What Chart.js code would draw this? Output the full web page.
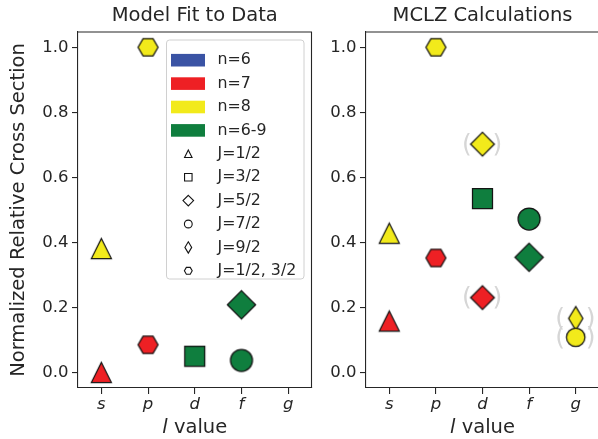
<!DOCTYPE html>
<html>
<head>
<meta charset="utf-8">
<script src="https://cdn.jsdelivr.net/npm/chart.js@4.4.0/dist/chart.umd.min.js"></script>
<style>
  html, body { margin: 0; padding: 0; background: #fff; overflow: hidden; width: 598px; height: 439px; }
  #leftWrap  { position: absolute; left: 0;     top: 0; width: 330px; height: 439px; }
  #rightWrap { position: absolute; left: 320px; top: 0; width: 290px; height: 439px; }
</style>
</head>
<body>
<div id="leftWrap"><canvas id="fitChart"></canvas></div>
<div id="rightWrap"><canvas id="mclzChart"></canvas></div>
<script>
// ---- data ----
const lValues = ['s', 'p', 'd', 'f', 'g'];
const yTicks = [0.0, 0.2, 0.4, 0.6, 0.8, 1.0];

const nLabels = ['n=6', 'n=7', 'n=8', 'n=6-9'];
const nColors = ['#3a53a4', '#ee2024', '#f2ea1b', '#0f7e3e'];
const jLabels = ['J=1/2', 'J=3/2', 'J=5/2', 'J=7/2', 'J=9/2', 'J=1/2, 3/2'];
const jShapes = ['triangle', 'square', 'diamond', 'circle', 'thinDiamond', 'hexagon'];

// Model fit to data
const fitL   = ['s', 's', 'p', 'p', 'd', 'f', 'f'];
const fitVal = [0.0, 0.381, 0.085, 1.0, 0.050, 0.208, 0.037];
const fitN   = ['n=7', 'n=8', 'n=7', 'n=8', 'n=6-9', 'n=6-9', 'n=6-9'];
const fitJ   = ['J=1/2', 'J=1/2', 'J=1/2, 3/2', 'J=1/2, 3/2', 'J=3/2', 'J=5/2', 'J=7/2'];

// MCLZ calculations (bracketed = shown in parentheses)
const mclzL   = ['s', 's', 'p', 'p', 'd', 'd', 'd', 'f', 'f', 'g', 'g'];
const mclzVal = [0.158, 0.428, 0.352, 1.0, 0.702, 0.535, 0.230, 0.472, 0.354, 0.166, 0.108];
const mclzN   = ['n=7', 'n=8', 'n=7', 'n=8', 'n=8', 'n=6-9', 'n=7', 'n=6-9', 'n=6-9', 'n=8', 'n=8'];
const mclzJ   = ['J=1/2', 'J=1/2', 'J=1/2, 3/2', 'J=1/2, 3/2', 'J=5/2', 'J=3/2', 'J=5/2', 'J=7/2', 'J=5/2', 'J=9/2', 'J=7/2'];
const mclzBracketed = [false, false, false, false, true, false, true, false, false, true, true];

// ---- styling ----
const FONT = 'DejaVu Sans';
const INK = '#262626';
const EDGE = '#141414';
const SHAPE_SIZE = { triangle: 20, square: 20, diamond: 20, circle: 22, thinDiamond: 20, hexagon: 20 };
const BRACKET_SCALE = 0.84;

function shapePath(ctx, shape, s, cx, cy) {
  const h = s / 2;
  ctx.beginPath();
  if (shape === 'triangle') {
    ctx.moveTo(cx, cy - h); ctx.lineTo(cx + h, cy + h); ctx.lineTo(cx - h, cy + h); ctx.closePath();
  } else if (shape === 'square') {
    ctx.rect(cx - h, cy - h, s, s);
  } else if (shape === 'diamond' || shape === 'thinDiamond') {
    const d = s / Math.SQRT2;
    const w = shape === 'thinDiamond' ? d * 0.6 : d;
    ctx.moveTo(cx, cy - d); ctx.lineTo(cx + w, cy); ctx.lineTo(cx, cy + d); ctx.lineTo(cx - w, cy); ctx.closePath();
  } else if (shape === 'circle') {
    ctx.arc(cx, cy, h, 0, Math.PI * 2);
  } else if (shape === 'hexagon') {
    for (let k = 0; k < 6; k++) {
      const a = k * Math.PI / 3;
      const px = cx + h * Math.cos(a), py = cy + h * Math.sin(a);
      k ? ctx.lineTo(px, py) : ctx.moveTo(px, py);
    }
    ctx.closePath();
  }
}

const markerCache = {};
function marker(shape, fill, s, lw) {
  const key = [shape, fill, s, lw].join('|');
  if (markerCache[key]) return markerCache[key];
  const ext = Math.ceil(s * 1.5 + lw * 2 + 2);
  const c = document.createElement('canvas');
  c.width = ext; c.height = ext;
  const ctx = c.getContext('2d');
  shapePath(ctx, shape, s, ext / 2, ext / 2);
  ctx.fillStyle = fill; ctx.fill();
  ctx.lineWidth = lw; ctx.strokeStyle = EDGE; ctx.lineJoin = 'miter'; ctx.stroke();
  markerCache[key] = c;
  return c;
}

function buildDataset(ls, vals, ns, js, bracketed) {
  const styles = ls.map((_, i) => {
    const shape = jShapes[jLabels.indexOf(js[i])];
    const color = nColors[nLabels.indexOf(ns[i])];
    const s = SHAPE_SIZE[shape] * (bracketed && bracketed[i] ? BRACKET_SCALE : 1);
    return marker(shape, color, s, 1.25);
  });
  return {
    data: ls.map((l, i) => ({ x: l, y: vals[i] })),
    pointStyle: styles,
    pointRadius: 10,
    pointHoverRadius: 10,
    showLine: false,
    clip: false,
    bracketed: bracketed || null
  };
}

// grey parentheses around bracketed points
const bracketPlugin = {
  id: 'brackets',
  beforeDatasetsDraw(chart) {
    const ds = chart.data.datasets[0];
    if (!ds.bracketed) return;
    const meta = chart.getDatasetMeta(0);
    const ctx = chart.ctx;
    ctx.save();
    ctx.fillStyle = '#d6d6d6';
    ctx.textAlign = 'center';
    ctx.textBaseline = 'middle';
    meta.data.forEach((pt, i) => {
      if (!ds.bracketed[i]) return;
      const stacked = ds.data.filter((d, k) => ds.bracketed[k] && d.x === ds.data[i].x).length > 1;
      ctx.font = (stacked ? 25 : 29) + 'px "' + FONT + '"';
      ctx.fillText('(', pt.x - 15.5, pt.y + 1);
      ctx.fillText(')', pt.x + 15, pt.y + 1);
    });
    ctx.restore();
  }
};

// top and right spines plus italic x-axis label
const framePlugin = {
  id: 'frame',
  afterDraw(chart) {
    const { ctx, chartArea: a } = chart;
    ctx.save();
    ctx.strokeStyle = INK; ctx.lineWidth = 1.1;
    ctx.beginPath();
    ctx.moveTo(a.left, a.top); ctx.lineTo(a.right, a.top); ctx.lineTo(a.right, a.bottom);
    ctx.stroke();
    // x label: italic "l" followed by " value"
    const f1 = 'italic 19.5px "' + FONT + '"', f2 = '19.5px "' + FONT + '"';
    ctx.font = f1; const w1 = ctx.measureText('l').width;
    ctx.font = f2; const w2 = ctx.measureText(' value').width;
    const x0 = (a.left + a.right) / 2 - (w1 + w2) / 2;
    const y0 = a.bottom + 45;
    ctx.fillStyle = INK; ctx.textBaseline = 'alphabetic'; ctx.textAlign = 'left';
    ctx.font = f1; ctx.fillText('l', x0, y0);
    ctx.font = f2; ctx.fillText(' value', x0 + w1, y0);
    ctx.restore();
  }
};

// legend listing the n colours and J marker shapes
const legendPlugin = {
  id: 'nJLegend',
  afterDraw(chart) {
    if (!chart.options.plugins.nJLegend || !chart.options.plugins.nJLegend.show) return;
    const { ctx, chartArea: a } = chart;
    const left = a.left + 88, top = a.top + 7.5, w = 137.5, h = 239, row0 = 20.7, rowH = 23.4;
    ctx.save();
    ctx.fillStyle = 'rgba(255,255,255,0.8)';
    ctx.strokeStyle = '#d0d0d0'; ctx.lineWidth = 1;
    ctx.beginPath();
    ctx.roundRect(left + 0.5, top + 0.5, w, h, 3);
    ctx.fill(); ctx.stroke();
    ctx.font = '15.8px "' + FONT + '"';
    ctx.textBaseline = 'middle'; ctx.textAlign = 'left';
    let r = 0;
    nLabels.forEach((lab, i) => {
      const y = top + row0 + rowH * r++;
      ctx.fillStyle = nColors[i];
      ctx.fillRect(left + 5, y - 6.3, 34, 12.6);
      ctx.fillStyle = INK;
      ctx.fillText(lab, left + 51.5, y);
    });
    const legendSize = { triangle: 7.5, square: 7.5, diamond: 7.5, circle: 7.8, thinDiamond: 8, hexagon: 7.8 };
    jLabels.forEach((lab, i) => {
      const y = top + row0 + rowH * r++;
      const shape = jShapes[i];
      ctx.save();
      shapePath(ctx, shape, legendSize[shape], left + 22.3, y);
      ctx.fillStyle = '#fff'; ctx.fill();
      ctx.strokeStyle = EDGE; ctx.lineWidth = 1.1; ctx.stroke();
      ctx.restore();
      ctx.fillStyle = INK;
      ctx.fillText(lab, left + 51.5, y);
    });
    ctx.restore();
  }
};

function makeChart(canvasId, dataset, opts) {
  return new Chart(document.getElementById(canvasId), {
    type: 'scatter',
    data: { labels: lValues, datasets: [dataset] },
    plugins: [bracketPlugin, framePlugin, legendPlugin],
    options: {
      responsive: true,
      maintainAspectRatio: false,
      animation: false,
      events: [],
      layout: { padding: { left: 0, right: opts.padRight, top: 0, bottom: 0 } },
      plugins: {
        legend: { display: false },
        tooltip: { enabled: false },
        title: {
          display: true,
          text: opts.title,
          fullSize: false,
          color: INK,
          font: { family: FONT, size: 19.5, weight: 'normal' },
          padding: { top: 4.2, bottom: 4.4 }
        },
        nJLegend: { show: opts.legend }
      },
      scales: {
        x: {
          type: 'category',
          labels: lValues,
          offset: true,
          grid: { display: true, drawOnChartArea: false, drawTicks: true, tickLength: 6, offset: false, color: INK, lineWidth: 1.1 },
          border: { display: true, color: INK, width: 1.1 },
          ticks: { color: INK, padding: 1, font: { family: FONT, size: 16.5, style: 'italic' } },
          afterFit(scale) { scale.height = 51; }
        },
        y: {
          type: 'linear',
          min: -0.048,
          max: 1.047,
          afterBuildTicks(scale) { scale.ticks = yTicks.map(v => ({ value: v })); },
          grid: { display: true, drawOnChartArea: false, drawTicks: true, tickLength: 6, color: INK, lineWidth: 1.1 },
          border: { display: true, color: INK, width: 1.1 },
          ticks: {
            color: INK, padding: 3.5,
            font: { family: FONT, size: 16.5 },
            callback: v => v.toFixed(1)
          },
          title: {
            display: opts.yTitle,
            text: 'Normalized Relative Cross Section',
            color: INK,
            font: { family: FONT, size: 19.5 },
            padding: { top: 7, bottom: 0 }
          },
          afterFit(scale) { scale.width = opts.yWidth; }
        }
      }
    }
  });
}

makeChart('fitChart',
  buildDataset(fitL, fitVal, fitN, fitJ, null),
  { title: 'Model Fit to Data', padRight: 18.5, yWidth: 78, yTitle: true, legend: true });

makeChart('mclzChart',
  buildDataset(mclzL, mclzVal, mclzN, mclzJ, mclzBracketed),
  { title: 'MCLZ Calculations', padRight: 11, yWidth: 46, yTitle: false, legend: false });
</script>
</body>
</html>
